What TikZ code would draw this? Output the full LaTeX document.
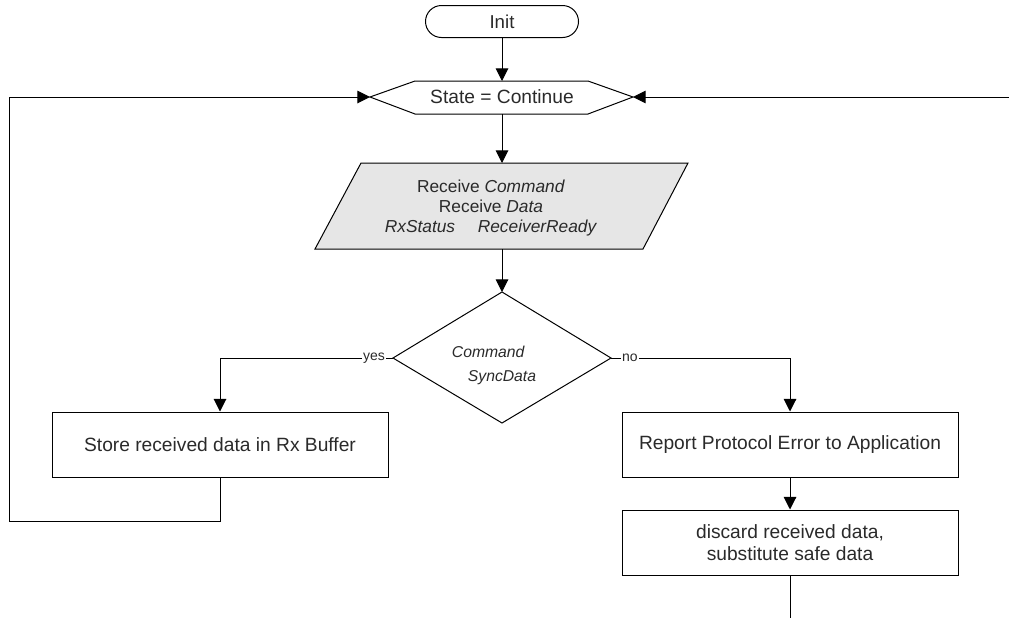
\documentclass[tikz,border=0pt]{standalone}
\usepackage{fontspec}
\setmainfont{Liberation Sans}
\usetikzlibrary{arrows.meta}
\definecolor{txt}{HTML}{2A2A2A}
\definecolor{ioFill}{HTML}{E6E6E6}
\begin{document}
\begin{tikzpicture}[x=0.75pt,y=-0.75pt,
  ln/.style={draw=black, line width=0.75pt},
  arr/.style={ln, -{Triangle[width=9.5pt,length=9.5pt]}},
  txtnode/.style={text=txt, inner sep=0pt, font=\fontsize{14.4pt}{16.5pt}\selectfont},
  box/.style={ln, rectangle, minimum width=252pt, minimum height=48.75pt, align=center,
     text=txt, font=\fontsize{14.4pt}{16.5pt}\selectfont},
  lbl/.style={fill=white, inner sep=1pt, text=txt, font=\fontsize{10.5pt}{12pt}\selectfont}
]
\useasboundingbox (0,0) rectangle (1009,618);

% Init
\node[ln, rectangle, rounded corners=12pt, minimum width=114.75pt, minimum height=24pt,
      text=txt, font=\fontsize{14pt}{16.5pt}\selectfont] (init) at (502,21.5) {Init};

% State = Continue (hexagon)
\draw[ln] (370,97) -- (415,81) -- (588,81) -- (633,97) -- (588,114) -- (415,114) -- cycle;
\node[txtnode] (st) at (502,97) {State = Continue};
\coordinate (stL) at (370,97);
\coordinate (stR) at (633,97);
\coordinate (stT) at (502,81);
\coordinate (stB) at (502,114);

% Receive (parallelogram)
\draw[ln, fill=ioFill] (361,163) -- (688,163) -- (643,249) -- (315,249) -- cycle;
\node[txtnode, align=center, font=\fontsize{13pt}{15.3pt}\selectfont] (rx) at (491,208)
  {Receive \textit{Command}\\Receive \textit{Data}\\\textit{RxStatus}\hspace{17pt}\textit{ReceiverReady}};
\coordinate (rxT) at (502,163);
\coordinate (rxB) at (502,249);

% Decision diamond
\draw[ln] (502,292) -- (611,358) -- (502,423) -- (393,358) -- cycle;
\node[txtnode, align=left, font=\fontsize{11.8pt}{18pt}\selectfont] (dec) at (494,365)
  {\textit{Command}\\\hspace*{12pt}\textit{SyncData}};
\coordinate (dT) at (502,292);
\coordinate (dL) at (393,358);
\coordinate (dR) at (611,358);

% Boxes
\node[box] (store) at (220,444.5) {Store received data in Rx Buffer};
\node[box] (report) at (790,444.5) {Report Protocol Error to Application};
\node[box] (disc) at (790,542.5) {discard received data,\\substitute safe data};

% free ends / corners
\coordinate (loopC) at (9,521);
\coordinate (rin) at (1009,97);
\coordinate (bout) at (790,618);

% Connectors
\draw[arr] (init) -- (stT);
\draw[arr] (stB) -- (rxT);
\draw[arr] (rxB) -- (dT);
\draw[arr] (dL) -| node[lbl, pos=0.055] {yes} (store.north);
\draw[arr] (dR) -| node[lbl, pos=0.053] {no} (report.north);
\draw[arr] (report) -- (disc);
\draw[ln] (disc.south) -- (bout);
\draw[arr] (store.south) |- (loopC) |- (stL);
\draw[arr] (rin) -- (stR);
\end{tikzpicture}
\end{document}
